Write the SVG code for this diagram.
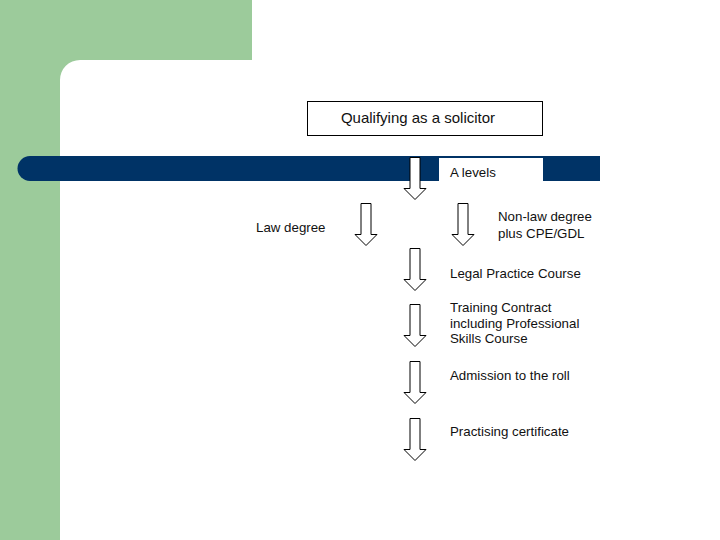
<svg xmlns="http://www.w3.org/2000/svg" xmlns:xlink="http://www.w3.org/1999/xlink" width="720" height="540" viewBox="0 0 720 540">
<style>
.t{font-family:"Liberation Sans",Arial,sans-serif;font-size:13.3px;fill:#111}
.arr{fill:#fff;stroke:#000;stroke-width:1}
</style>
<defs>
<path id="ar" d="M-5,0 H5 V31 H11 L0,42 L-11,31 H-5 Z"/>
</defs>
<rect width="720" height="540" fill="#fff"/>
<g id="background">
<rect x="0" y="0" width="252" height="60" fill="#9ccb9b"/>
<rect x="0" y="0" width="60" height="540" fill="#9ccb9b"/>
<path d="M60,60 H80 A20,20 0 0 0 60,80 Z" fill="#9ccb9b"/>
<path d="M30,156 H600 V181 H30 A12.5,12.5 0 0 1 30,156 Z" fill="#003366"/>
</g>
<g id="title">
<rect x="307.5" y="101.5" width="235" height="34" fill="#fff" stroke="#000"/>
<text x="418" y="123" text-anchor="middle" class="t" style="font-size:15px">Qualifying as a solicitor</text>
</g>
<g id="alevels">
<rect x="439" y="158" width="104" height="23" fill="#fff"/>
<text x="450" y="177" class="t">A levels</text>
</g>
<g id="lawdegree"><text x="256" y="232" class="t">Law degree</text></g>
<g id="nonlaw"><text x="498" y="221" class="t">Non-law degree</text><text x="498" y="238" class="t">plus CPE/GDL</text></g>
<g id="lpc"><text x="450" y="278" class="t">Legal Practice Course</text></g>
<g id="training"><text x="450" y="312" class="t">Training Contract</text><text x="450" y="328" class="t">including Professional</text><text x="450" y="343" class="t">Skills Course</text></g>
<g id="admission"><text x="450" y="380" class="t">Admission to the roll</text></g>
<g id="practising"><text x="450" y="436" class="t">Practising certificate</text></g>
<g id="connectors">
<use xlink:href="#ar" class="arr" x="415" y="157.5"/>
<use xlink:href="#ar" class="arr" x="366" y="203.5"/>
<use xlink:href="#ar" class="arr" x="463" y="203.5"/>
<use xlink:href="#ar" class="arr" x="415" y="248.5"/>
<use xlink:href="#ar" class="arr" x="415" y="304.5"/>
<use xlink:href="#ar" class="arr" x="415" y="361.5"/>
<use xlink:href="#ar" class="arr" x="415" y="418.5"/>
</g>
</svg>
